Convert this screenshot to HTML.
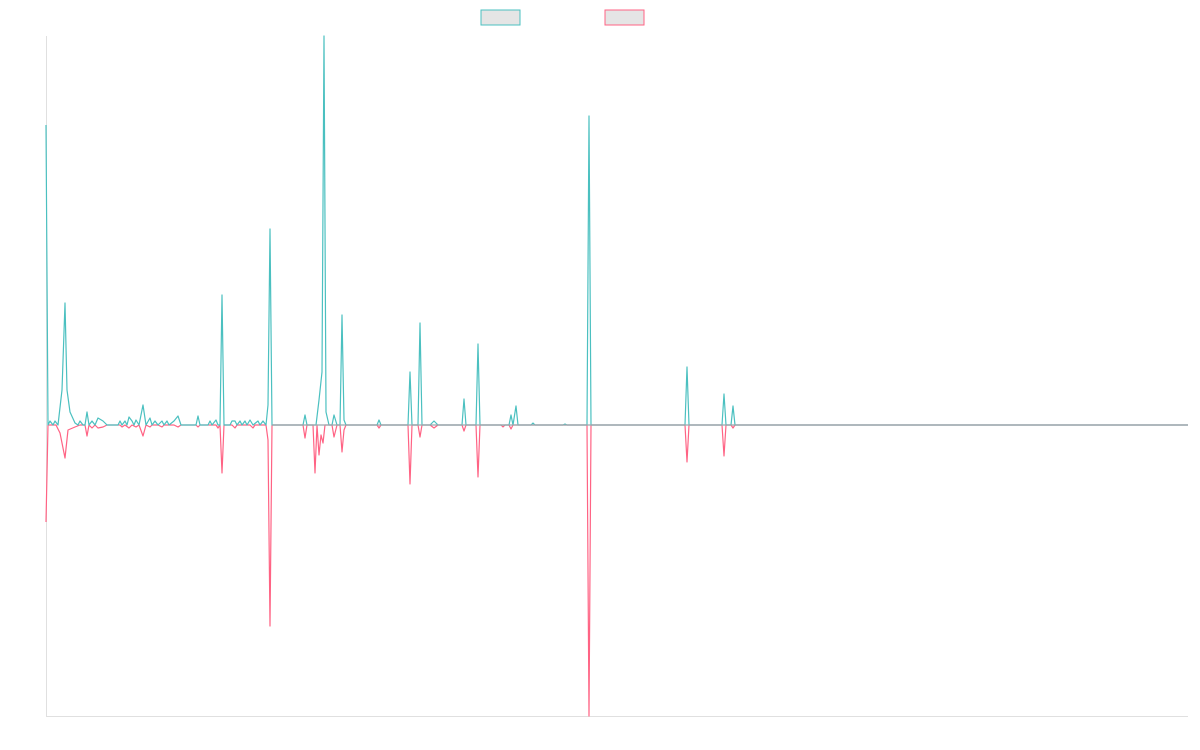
<!DOCTYPE html>
<html><head><meta charset="utf-8"><style>
html,body{margin:0;padding:0;background:#fff;width:1200px;height:750px;overflow:hidden}
</style></head><body>
<svg width="1200" height="750" xmlns="http://www.w3.org/2000/svg">
<rect x="481" y="10" width="39" height="15" fill="#e5e5e5" stroke="#4bc0c0" stroke-width="1"/>
<rect x="605" y="10" width="39" height="15" fill="#e5e5e5" stroke="#ff6384" stroke-width="1"/>
<line x1="46.5" y1="36" x2="46.5" y2="716" stroke="#e0e0e0" stroke-width="1"/>
<line x1="46" y1="716.5" x2="1188" y2="716.5" stroke="#e0e0e0" stroke-width="1"/>
<g fill="none" stroke-width="1.2" stroke-linejoin="round">
<path stroke="#ff6384" d="M46,522 L48,425 L56,425 L60,433 L65,458 L68,430 L75,427 L80,425 L85,425 L87,436 L89,425 L92,428 L95,425 L98,428 L103,427 L107,425 L120,425 L122,427 L125,425 L129,428 L132,425 L136,427 L139,425 L143,436 L146,425 L150,427 L152,425 L158,425 L162,427 L164,425 L174,425 L178,427 L181,425 L196,425 L198,427 L200,425 L216,425 L218,428 L220,425 L222,473 L224,425 L232,425 L235,428 L237,425 L250,425 L253,428 L255,425 L266,425 L268,440 L270,626 L272,425 L303,425 L305,438 L307,425 L313,425 L315,473 L317,425 L319,455 L321,435 L323,443 L325,425 L332,425 L334,437 L337,425 L340,425 L342,452 L344,430 L346,425 L377,425 L379,428 L381,425 L408,425 L410,484 L412,425 L418,425 L420,437 L422,425 L430,425 L434,428 L438,425 L462,425 L464,431 L466,425 L476,425 L478,477 L480,425 L501,425 L503,427 L505,425 L509,425 L511,429 L513,425 L587,425 L589,716 L591,425 L685,425 L687,462 L689,425 L722,425 L724,456 L726,425 L731,425 L733,428 L735,425 L1188,425"/>
<path stroke="#4bc0c0" d="M46,125 L48,425 L50,421 L53,425 L55,421 L58,425 L62,390 L65,303 L67,390 L70,412 L75,423 L78,425 L80,421 L83,425 L85,425 L87,412 L89,425 L92,421 L95,425 L98,418 L103,421 L107,425 L118,425 L120,421 L122,425 L125,421 L127,425 L129,417 L132,421 L134,425 L136,420 L139,425 L143,405 L146,425 L150,418 L152,425 L155,421 L158,425 L162,421 L164,425 L167,421 L169,425 L174,421 L178,416 L181,425 L196,425 L198,416 L200,425 L208,425 L210,421 L212,425 L216,420 L218,425 L220,425 L222,295 L224,425 L230,425 L232,421 L235,421 L237,425 L240,421 L242,425 L245,421 L247,425 L250,420 L253,425 L258,421 L260,425 L263,421 L266,425 L268,405 L270,229 L272,425 L303,425 L305,415 L307,425 L316,425 L319,400 L322,372 L324,36 L326,412 L329,425 L332,425 L334,415 L337,425 L340,425 L342,315 L344,420 L346,425 L377,425 L379,420 L381,425 L408,425 L410,372 L412,425 L418,425 L420,323 L422,425 L430,425 L434,421 L438,425 L462,425 L464,399 L466,425 L476,425 L478,344 L480,425 L509,425 L511,415 L513,425 L516,406 L518,425 L531,425 L533,423 L535,425 L563,425 L565,424 L567,425 L587,425 L589,116 L591,425 L685,425 L687,367 L689,425 L722,425 L724,394 L726,425 L731,425 L733,406 L735,425 L1188,425"/>
</g>
<line x1="272" y1="425" x2="1188" y2="425" stroke="#9aa8ad" stroke-width="1.3"/>
</svg>
</body></html>
